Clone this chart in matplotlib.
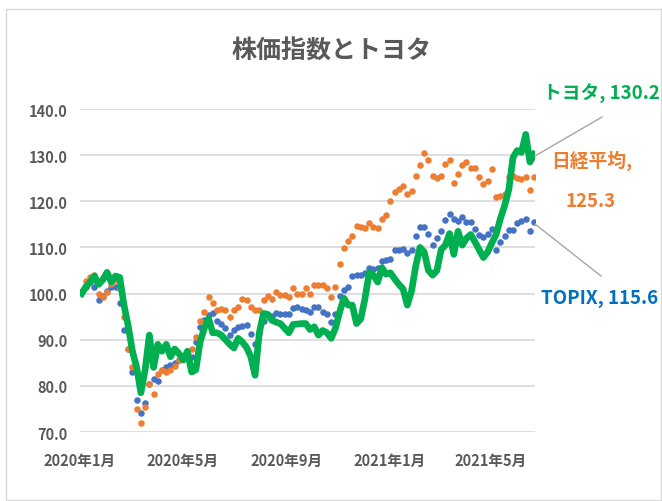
import matplotlib
matplotlib.use("Agg")
import matplotlib.pyplot as plt
import matplotlib.dates as mdates
from matplotlib.lines import Line2D
from matplotlib.patches import Rectangle
import pandas as pd

plt.rcParams['font.family'] = ['Noto Sans CJK JP', 'DejaVu Sans']

# ---- data (index, start = 100) ----
start_date = "2020-01-03"
step = "5D"

toyota = [100.0, 101.5, 102.5, 103.8, 102.0, 103.0, 104.6, 102.5, 103.8, 103.5,
          97.5, 93.0, 87.5, 84.0, 78.5, 83.5, 91.0, 84.0, 89.0, 87.5,
          89.0, 86.3, 88.0, 87.0, 85.6, 87.5, 83.0, 83.5, 89.5, 92.5,
          94.6, 91.5, 91.5, 91.0, 90.0, 89.0, 88.2, 90.3, 89.5, 88.3,
          86.3, 82.3, 91.5, 95.7, 95.5, 94.2, 93.8, 93.5, 92.5, 91.5,
          93.3, 93.4, 93.5, 93.5, 92.2, 92.8, 91.0, 92.0, 91.5, 90.3,
          92.5, 96.0, 99.0, 97.5, 97.5, 93.5, 94.5, 99.0, 104.5, 104.0,
          102.5, 105.6, 104.2, 104.5, 103.2, 102.0, 101.0, 97.5, 100.5, 106.0,
          110.0, 109.0, 105.0, 104.0, 105.0, 109.5, 110.5, 113.0, 108.5, 113.5,
          110.5, 112.0, 112.8, 111.2, 109.5, 107.8, 109.0, 111.0, 112.8, 116.2,
          119.0, 122.5, 129.5, 131.0, 130.6, 134.5, 128.5, 130.2]

nikkei = [100.5, 102.7, 103.5, 104.0, 100.0, 99.3, 100.4, 102.0, 103.0, 101.0,
          95.0, 88.0, 84.0, 75.0, 72.0, 75.5, 80.5, 78.3, 82.5, 83.5,
          83.0, 83.5, 84.3, 85.5, 85.8, 86.5, 88.0, 90.6, 94.0, 96.0,
          99.3, 98.0, 96.4, 96.7, 96.5, 94.9, 96.4, 97.0, 98.9, 98.6,
          97.0, 96.4, 96.5, 98.5, 99.5, 98.9, 100.3, 99.7, 99.6, 99.3,
          101.1, 100.0, 100.0, 101.3, 100.0, 101.8, 101.8, 101.8, 101.2, 99.3,
          101.5, 106.5, 109.8, 111.5, 112.5, 114.7, 114.5, 114.2, 115.2, 114.5,
          114.2, 116.2, 117.0, 120.0, 122.0, 122.7, 123.3, 121.5, 122.3, 125.5,
          127.8, 130.5, 129.0, 125.5, 125.0, 125.5, 128.0, 129.0, 124.0, 126.0,
          127.8, 128.5, 127.3, 127.3, 125.2, 123.8, 124.5, 127.0, 120.9, 121.2,
          121.5, 125.2, 125.5, 125.0, 124.8, 125.2, 122.5, 125.3]

topix = [100.4, 101.5, 102.4, 101.5, 98.5, 99.5, 100.5, 101.5, 101.5, 98.0,
         92.0, 88.0, 83.0, 77.0, 74.1, 76.3, 80.5, 81.5, 81.0, 83.5,
         84.1, 84.5, 85.0, 85.6, 85.8, 86.0, 86.3, 89.5, 92.8, 94.2,
         95.4, 95.8, 94.0, 93.5, 92.5, 91.0, 92.2, 92.8, 93.0, 93.1,
         91.2, 89.0, 91.5, 94.0, 95.3, 95.2, 95.7, 95.5, 95.5, 95.6,
         96.8, 97.1, 96.7, 96.5, 96.1, 97.1, 97.0, 96.0, 95.5, 93.9,
         95.5, 99.5, 100.7, 101.5, 103.7, 104.1, 104.1, 104.5, 105.5, 105.4,
         105.5, 107.0, 107.2, 107.5, 109.5, 109.5, 109.6, 108.8, 109.5, 112.4,
         114.5, 114.5, 113.0, 110.5, 112.0, 113.5, 116.0, 117.2, 116.2, 115.8,
         116.5, 115.5, 115.5, 114.0, 112.8, 112.3, 112.9, 114.0, 109.4, 111.2,
         112.5, 113.7, 113.8, 115.3, 115.8, 116.2, 113.5, 115.6]

tick_dates = ["2020-01-01", "2020-05-01", "2020-09-01", "2021-01-01", "2021-05-01"]
tick_labels = ["2020年1月", "2020年5月", "2020年9月", "2021年1月", "2021年5月"]
y_ticks = [70, 80, 90, 100, 110, 120, 130, 140]

title = "株価指数とトヨタ"
label_toyota = "トヨタ, 130.2"
label_nikkei_1 = "日経平均,"
label_nikkei_2 = "125.3"
label_topix = "TOPIX, 115.6"

dates = pd.date_range(start_date, periods=len(toyota), freq=step)

W, H = 662, 502
fig = plt.figure(figsize=(W / 100, H / 100), dpi=100)
fig.patch.set_facecolor("white")

def fx(px):
    return px / W

def fy(py):
    return 1 - py / H

ax = fig.add_axes([fx(80), fy(433), (535 - 80) / W, (433 - 110) / H])

c_blue = "#4472C4"
c_orange = "#ED7D31"
c_green = "#00B050"

ax.scatter(dates, topix, s=22, color=c_blue, linewidths=0, zorder=3)
ax.scatter(dates, nikkei, s=22, color=c_orange, linewidths=0, zorder=4)
ax.plot(dates, toyota, color=c_green, lw=4.8, solid_joinstyle="round", zorder=5)

ax.set_ylim(70, 140)
ax.set_xlim(pd.Timestamp("2020-01-01"), pd.Timestamp("2021-06-22"))
ax.set_yticks(y_ticks)
ax.set_yticklabels([f"{v:.1f}" for v in y_ticks])
ax.set_xticks([mdates.date2num(pd.Timestamp(d)) for d in tick_dates])
ax.set_xticklabels(tick_labels)
ax.yaxis.grid(True, color="#d9d9d9", lw=1.2)
ax.set_axisbelow(True)
for s in ax.spines.values():
    s.set_visible(False)
ax.tick_params(axis="both", length=0, colors="#595959", labelsize=10.5)
ax.tick_params(axis="y", pad=9)
ax.tick_params(axis="x", pad=14)
for lab in ax.get_xticklabels() + ax.get_yticklabels():
    lab.set_fontweight("bold")

fig.text(fx(332), fy(52), title, ha="center", va="center", fontsize=18,
         fontweight="bold", color="#595959")

fig.text(fx(601), fy(93), label_toyota, ha="center", va="center", fontsize=13.5,
         fontweight="bold", color=c_green)
fig.text(fx(592), fy(161), label_nikkei_1, ha="center", va="center", fontsize=13.5,
         fontweight="bold", color=c_orange)
fig.text(fx(591), fy(202), label_nikkei_2, ha="center", va="center", fontsize=13.5,
         fontweight="bold", color=c_orange)
fig.text(fx(600), fy(299), label_topix, ha="center", va="center", fontsize=13.5,
         fontweight="bold", color="#0070C0")

fig.add_artist(Line2D([fx(535), fx(602)], [fy(157), fy(118)], color="#a6a6a6", lw=1))
fig.add_artist(Line2D([fx(535), fx(601)], [fy(225), fy(277)], color="#a6a6a6", lw=1))

fig.add_artist(Rectangle((fx(6), fy(501)), (661 - 6) / W, (501 - 10) / H,
                         fill=False, ec="#d9d9d9", lw=1))

fig.savefig("out.png", dpi=100)
